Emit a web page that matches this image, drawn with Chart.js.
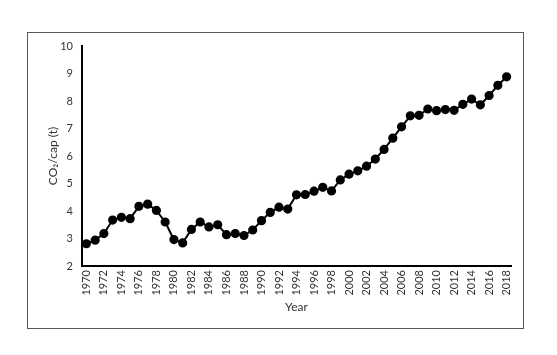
<!DOCTYPE html>
<html>
<head>
<meta charset="utf-8">
<script src="https://cdn.jsdelivr.net/npm/chart.js@4"></script>
<style>
html,body{margin:0;padding:0;background:#fff;}
#wrap{position:absolute;left:0;top:0;width:557px;height:355px;}
</style>
</head>
<body>
<div id="wrap"><canvas id="c" width="557" height="355"></canvas></div>
<script>
const years = [];
for (let y = 1970; y <= 2018; y++) years.push(String(y));
const co2PerCap = [2.81,2.94,3.18,3.67,3.77,3.72,4.17,4.25,4.02,3.60,
  2.96,2.84,3.33,3.60,3.42,3.50,3.14,3.18,3.11,3.31,
  3.65,3.95,4.14,4.07,4.59,4.60,4.72,4.86,4.73,5.13,
  5.34,5.46,5.63,5.89,6.24,6.65,7.06,7.46,7.48,7.71,
  7.65,7.69,7.66,7.88,8.07,7.86,8.20,8.57,8.88];
const yTitle = 'CO\u2082/cap (t)';
const xTitle = 'Year';

const borderPlugin = {
  id: 'outerBorder',
  beforeDraw(chart) {
    const ctx = chart.ctx;
    ctx.save();
    ctx.fillStyle = '#fff';
    ctx.fillRect(0, 0, chart.width, chart.height);
    ctx.strokeStyle = '#595959';
    ctx.lineWidth = 1;
    ctx.strokeRect(27.5, 32.5, 496, 296);
    ctx.restore();
  }
};

const FONT = 'Lato, "Open Sans", sans-serif';
new Chart(document.getElementById('c'), {
  type: 'line',
  data: {
    labels: years,
    datasets: [{
      data: co2PerCap,
      borderColor: '#000',
      backgroundColor: '#000',
      borderWidth: 2,
      pointRadius: 3.6,
      pointBackgroundColor: '#000',
      pointBorderColor: '#000',
      tension: 0
    }]
  },
  options: {
    responsive: false,
    animation: false,
    layout: { padding: { left: 42, top: 46, right: 46, bottom: 37 } },
    plugins: { legend: { display: false }, tooltip: { enabled: false } },
    scales: {
      x: {
        type: 'category',
        offset: true,
        grid: { display: false, drawTicks: false },
        border: { display: true, color: '#000', width: 2 },
        ticks: {
          autoSkip: false,
          maxRotation: 90,
          minRotation: 90,
          padding: 4,
          color: '#333',
          font: { family: FONT, size: 11 },
          callback: function(v, i) { return i % 2 === 0 ? this.getLabelForValue(v) : ''; }
        },
        title: { display: true, text: xTitle, color: '#333', font: { family: FONT, size: 12 }, padding: 4 },
        afterFit(s) { s.height = 52; }
      },
      y: {
        min: 2, max: 10,
        grid: { display: false, drawTicks: false },
        border: { display: true, color: '#000', width: 2 },
        ticks: { stepSize: 1, padding: 9, color: '#333', font: { family: FONT, size: 11 } },
        title: { display: true, text: yTitle, color: '#333', font: { family: FONT, size: 12 }, padding: 4 },
        afterFit(s) { s.width = 40; }
      }
    }
  },
  plugins: [borderPlugin]
});
</script>
</body>
</html>
